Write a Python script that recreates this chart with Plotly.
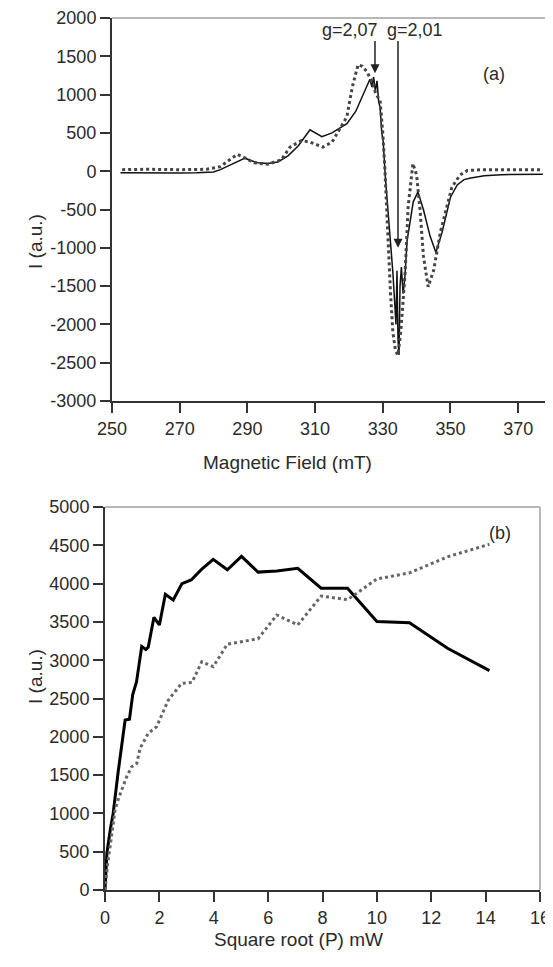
import plotly.graph_objects as go

# ---------------- (a) EPR spectra ----------------
field_solid = [252.5, 260, 270, 275, 280, 282, 285, 287, 289.3, 291, 293, 296, 299, 302, 305, 308.5,
               310, 312, 315, 319.4, 322, 324, 325.3, 326.2, 326.8, 327.3, 327.8, 328.3, 328.8, 329.2,
               329.7, 330.1, 330.8, 331.5, 332.2, 333, 333.5, 333.9, 334.2, 334.5, 334.8, 335.1, 335.5,
               336, 336.5, 337.2, 338, 339, 340.4, 342, 344, 345.7, 347.5, 350, 352, 354, 356, 360,
               365, 370, 377.3]
int_solid = [-20, -25, -25, -20, -10, 20, 80, 120, 170, 140, 110, 100, 120, 200, 330, 540,
             500, 450, 500, 620, 780, 980, 1100, 1200, 1100, 1230, 1050, 1180, 900, 840,
             500, 400, -100, -460, -900, -1330, -1700, -2000, -1300, -2200, -2400, -1500, -1250,
             -1600, -1400, -900, -680, -400, -270, -500, -850, -1060, -800, -340, -180, -110, -90, -60,
             -45, -40, -40]

field_dot = [253, 260, 270, 278, 282, 285, 287, 289, 292, 296, 300, 302.6, 306, 308.5, 312.3, 315,
             319.4, 321, 322.7, 324, 325.3, 327, 328, 329.2, 330, 330.6, 331.5, 332.3, 333, 333.8,
             334.5, 335.3, 336, 336.6, 337.5, 338.9, 340, 341, 342, 343.4, 345, 347, 350.4, 352.8,
             355, 360, 370, 377]
int_dot = [20, 25, 20, 25, 60, 160, 220, 180, 110, 90, 150, 315, 400, 380, 315, 380,
           710, 1100, 1390, 1370, 1300, 1150, 1000, 930, 500, 50, -900, -1600, -2110, -2350,
           -2400, -2100, -1700, -1330, -465, 100, -50, -500, -1100, -1510, -1300, -800, -210, -50,
           10, 20, 20, 20]

ya_vals = [2000, 1500, 1000, 500, 0, -500, -1000, -1500, -2000, -2500, -3000]
ya_text = ["2000", "1500", "1000", "500", "0", "-500", "-1000", "-1500", "-2000", "-2500", "-3000"]
xa_vals = [250, 270, 290, 310, 330, 350, 370]

g_labels = ["g=2,07", "g=2,01"]
g_fields = [327.7, 334.5]

# ---------------- (b) saturation ----------------
sqrtp_solid = [0, 0.07, 0.2, 0.3, 0.48, 0.62, 0.74, 0.9, 1.02, 1.16, 1.35, 1.5, 1.59, 1.8, 2.0,
               2.22, 2.51, 2.83, 3.17, 3.55, 3.98, 4.5, 5.02, 5.63, 6.32, 7.09, 7.95, 8.92, 10.0,
               11.2, 12.6, 14.14]
isat_solid = [0, 480, 800, 1000, 1530, 1920, 2220, 2230, 2550, 2720, 3180, 3140, 3170, 3560, 3460,
              3860, 3785, 4000, 4047, 4185, 4317, 4180, 4355, 4150, 4165, 4200, 3940, 3940, 3505,
              3490, 3155, 2863]

sqrtp_dot = [0, 0.1, 0.2, 0.25, 0.37, 0.5, 0.61, 0.8, 0.98, 1.17, 1.29, 1.59, 1.9, 2.08, 2.33,
             2.82, 3.2, 3.56, 3.98, 4.5, 5.02, 5.63, 6.32, 7.09, 7.95, 8.92, 10.0, 11.2, 12.6, 14.14]
isat_dot = [0, 350, 600, 744, 1044, 1200, 1305, 1480, 1610, 1654, 1850, 2045, 2132, 2285, 2480,
            2698, 2710, 2980, 2915, 3210, 3240, 3280, 3590, 3460, 3838, 3790, 4060, 4140, 4350, 4513]

yb_vals = [0, 500, 1000, 1500, 2000, 2500, 3000, 3500, 4000, 4500, 5000]
xb_vals = [0, 2, 4, 6, 8, 10, 12, 14, 16]

W, H = 553, 967
OFF = 8  # page body margin offset of the figure inside the window


def px(v):
    return (v - OFF) / W


def py(v):
    return 1 - (v - OFF) / H


FONT = "Liberation Sans, Arial, sans-serif"
TXT = "#2a2a2a"

fig = go.Figure()
fig.add_trace(go.Scatter(x=field_solid, y=int_solid, mode="lines",
                         line=dict(color="#111111", width=1.5), xaxis="x", yaxis="y"))
fig.add_trace(go.Scatter(x=field_dot, y=int_dot, mode="lines",
                         line=dict(color="#444444", width=3, dash="dot"), xaxis="x", yaxis="y"))
fig.add_trace(go.Scatter(x=sqrtp_solid, y=isat_solid, mode="lines",
                         line=dict(color="#000000", width=3), xaxis="x2", yaxis="y2"))
fig.add_trace(go.Scatter(x=sqrtp_dot, y=isat_dot, mode="lines",
                         line=dict(color="#666666", width=3, dash="dot"), xaxis="x2", yaxis="y2"))

axis_common = dict(showgrid=False, zeroline=False, showline=True, linecolor="#333333", linewidth=2,
                   ticks="outside", ticklen=10, tickwidth=1.5, tickcolor="#333333", automargin=False,
                   tickfont=dict(family=FONT, size=18, color=TXT))

fig.update_layout(
    width=W, height=H, autosize=False,
    margin=dict(l=0, r=0, t=0, b=0, autoexpand=False),
    paper_bgcolor="white", plot_bgcolor="white",
    showlegend=False,
    xaxis=dict(domain=[px(112), px(552)], range=[250, 380], anchor="y",
               tickvals=xa_vals, **axis_common),
    yaxis=dict(domain=[py(401), py(18)], range=[-3000, 2000], anchor="x",
               tickvals=ya_vals, ticktext=ya_text, **axis_common),
    xaxis2=dict(domain=[px(105), px(540)], range=[0, 16], anchor="y2",
                tickvals=xb_vals, **axis_common),
    yaxis2=dict(domain=[py(890), py(507)], range=[0, 5000], anchor="x2",
                tickvals=yb_vals, **axis_common),
)

# gray top/right frame lines
for xr, yr in [("x", "y"), ("x2", "y2")]:
    fig.add_shape(type="line", xref=xr + " domain", yref=yr + " domain", x0=0, x1=1, y0=1, y1=1,
                  line=dict(color="#a0a0a0", width=1.5))
    fig.add_shape(type="line", xref=xr + " domain", yref=yr + " domain", x0=1, x1=1, y0=0, y1=1,
                  line=dict(color="#a0a0a0", width=1.5))

# g-value arrows
g_tips = [1280, -1000]
for f, tip in zip(g_fields, g_tips):
    fig.add_annotation(x=f, y=tip, ax=f, ay=1720, xref="x", yref="y", axref="x", ayref="y",
                       text="", showarrow=True, arrowhead=2, arrowsize=1.2, arrowwidth=1.5,
                       arrowcolor="#222222")
for lbl, xpix in zip(g_labels, [350, 415]):
    fig.add_annotation(x=px(xpix), y=py(30), xref="paper", yref="paper", xanchor="center",
                       yanchor="middle", text=lbl, showarrow=False,
                       font=dict(family=FONT, size=18, color=TXT))

# panel labels
fig.add_annotation(x=px(507), y=py(62), xref="paper", yref="paper", text="(a)", showarrow=False,
                   font=dict(family=FONT, size=18, color=TXT))
fig.add_annotation(x=px(513), y=py(533), xref="paper", yref="paper", text="(b)", showarrow=False,
                   font=dict(family=FONT, size=18, color=TXT))

# axis titles
fig.add_annotation(x=px(287), y=py(463), xref="paper", yref="paper", text="Magnetic Field (mT)",
                   showarrow=False, font=dict(family=FONT, size=19, color=TXT))
fig.add_annotation(x=px(298), y=py(952), xref="paper", yref="paper", text="Square root (P) mW",
                   showarrow=False, font=dict(family=FONT, size=19, color=TXT))
fig.add_annotation(x=px(23), y=py(212), xref="paper", yref="paper", text="I (a.u.)", textangle=-90,
                   showarrow=False, font=dict(family=FONT, size=19, color=TXT))
fig.add_annotation(x=px(23), y=py(706), xref="paper", yref="paper", text="I (a.u.)", textangle=-90,
                   showarrow=False, font=dict(family=FONT, size=19, color=TXT))

fig.write_html("out.html")
